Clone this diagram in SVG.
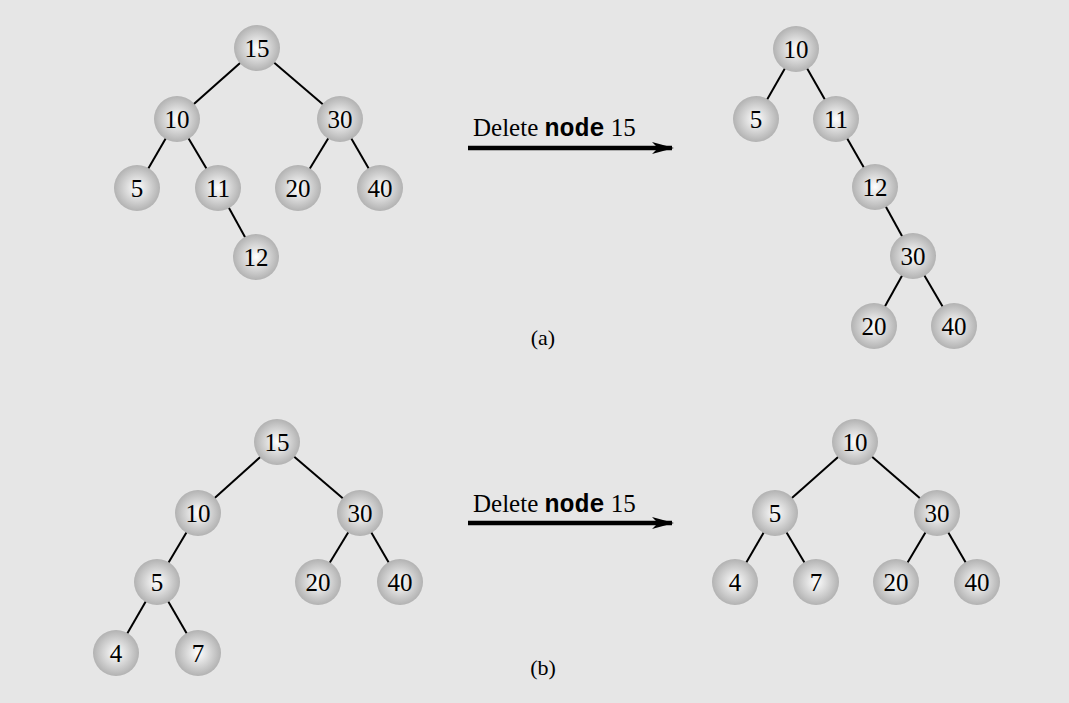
<svg xmlns="http://www.w3.org/2000/svg" width="1069" height="703" viewBox="0 0 1069 703">
<style>
.n{fill:url(#g)}
.t{font-family:"Liberation Serif",serif;font-size:25px;text-anchor:middle;fill:#000}
.e{stroke:#000;stroke-width:2;fill:none}
.lbl{font-family:"Liberation Serif",serif;font-size:25px;fill:#000}
.cap{font-family:"Liberation Serif",serif;font-size:22px;fill:#000;text-anchor:middle}
</style>
<defs>
<radialGradient id="g" cx="0.5" cy="0.5" r="0.5">
<stop offset="0" stop-color="#ffffff"/>
<stop offset="1" stop-color="#b2b2b2"/>
</radialGradient>
<marker id="ah" markerWidth="22" markerHeight="14" refX="20" refY="7" orient="auto" markerUnits="userSpaceOnUse">
<path d="M0,1 L22,7 L0,13 L6,7 Z" fill="#000"/>
</marker>
</defs>
<rect width="1069" height="703" fill="#e6e6e6"/>
<g id="connectors">
<line class="e" x1="257" y1="48" x2="177" y2="119"/>
<line class="e" x1="257" y1="48" x2="340" y2="119"/>
<line class="e" x1="177" y1="119" x2="137" y2="188"/>
<line class="e" x1="177" y1="119" x2="218" y2="188"/>
<line class="e" x1="218" y1="188" x2="256" y2="257"/>
<line class="e" x1="340" y1="119" x2="298" y2="188"/>
<line class="e" x1="340" y1="119" x2="380" y2="188"/>
<line class="e" x1="796" y1="49" x2="756" y2="119"/>
<line class="e" x1="796" y1="49" x2="836" y2="119"/>
<line class="e" x1="836" y1="119" x2="875" y2="187"/>
<line class="e" x1="875" y1="187" x2="913" y2="256"/>
<line class="e" x1="913" y1="256" x2="874" y2="326"/>
<line class="e" x1="913" y1="256" x2="954" y2="326"/>
<line class="e" x1="277" y1="442" x2="198" y2="513"/>
<line class="e" x1="277" y1="442" x2="360" y2="513"/>
<line class="e" x1="198" y1="513" x2="157" y2="582"/>
<line class="e" x1="157" y1="582" x2="116" y2="653"/>
<line class="e" x1="157" y1="582" x2="198" y2="653"/>
<line class="e" x1="360" y1="513" x2="318" y2="582"/>
<line class="e" x1="360" y1="513" x2="400" y2="582"/>
<line class="e" x1="855" y1="442" x2="775" y2="513"/>
<line class="e" x1="855" y1="442" x2="937" y2="513"/>
<line class="e" x1="775" y1="513" x2="735" y2="582"/>
<line class="e" x1="775" y1="513" x2="816" y2="582"/>
<line class="e" x1="937" y1="513" x2="896" y2="582"/>
<line class="e" x1="937" y1="513" x2="977" y2="582"/>
<line x1="468" y1="148" x2="672" y2="148" stroke="#000" stroke-width="4.5" marker-end="url(#ah)"/>
<line x1="468" y1="523" x2="672" y2="523" stroke="#000" stroke-width="4.5" marker-end="url(#ah)"/>
</g>
<g id="a-l15"><circle class="n" cx="257" cy="48" r="23"/><text class="t" x="257" y="57">15</text></g>
<g id="a-l10"><circle class="n" cx="177" cy="119" r="23"/><text class="t" x="177" y="128">10</text></g>
<g id="a-l30"><circle class="n" cx="340" cy="119" r="23"/><text class="t" x="340" y="128">30</text></g>
<g id="a-l5"><circle class="n" cx="137" cy="188" r="23"/><text class="t" x="137" y="197">5</text></g>
<g id="a-l11"><circle class="n" cx="218" cy="188" r="23"/><text class="t" x="218" y="197">11</text></g>
<g id="a-l20"><circle class="n" cx="298" cy="188" r="23"/><text class="t" x="298" y="197">20</text></g>
<g id="a-l40"><circle class="n" cx="380" cy="188" r="23"/><text class="t" x="380" y="197">40</text></g>
<g id="a-l12"><circle class="n" cx="256" cy="257" r="23"/><text class="t" x="256" y="266">12</text></g>
<g id="a-r10"><circle class="n" cx="796" cy="49" r="23"/><text class="t" x="796" y="58">10</text></g>
<g id="a-r5"><circle class="n" cx="756" cy="119" r="23"/><text class="t" x="756" y="128">5</text></g>
<g id="a-r11"><circle class="n" cx="836" cy="119" r="23"/><text class="t" x="836" y="128">11</text></g>
<g id="a-r12"><circle class="n" cx="875" cy="187" r="23"/><text class="t" x="875" y="196">12</text></g>
<g id="a-r30"><circle class="n" cx="913" cy="256" r="23"/><text class="t" x="913" y="265">30</text></g>
<g id="a-r20"><circle class="n" cx="874" cy="326" r="23"/><text class="t" x="874" y="335">20</text></g>
<g id="a-r40"><circle class="n" cx="954" cy="326" r="23"/><text class="t" x="954" y="335">40</text></g>
<g id="b-l15"><circle class="n" cx="277" cy="442" r="23"/><text class="t" x="277" y="451">15</text></g>
<g id="b-l10"><circle class="n" cx="198" cy="513" r="23"/><text class="t" x="198" y="522">10</text></g>
<g id="b-l30"><circle class="n" cx="360" cy="513" r="23"/><text class="t" x="360" y="522">30</text></g>
<g id="b-l5"><circle class="n" cx="157" cy="582" r="23"/><text class="t" x="157" y="591">5</text></g>
<g id="b-l20"><circle class="n" cx="318" cy="582" r="23"/><text class="t" x="318" y="591">20</text></g>
<g id="b-l40"><circle class="n" cx="400" cy="582" r="23"/><text class="t" x="400" y="591">40</text></g>
<g id="b-l4"><circle class="n" cx="116" cy="653" r="23"/><text class="t" x="116" y="662">4</text></g>
<g id="b-l7"><circle class="n" cx="198" cy="653" r="23"/><text class="t" x="198" y="662">7</text></g>
<g id="b-r10"><circle class="n" cx="855" cy="442" r="23"/><text class="t" x="855" y="451">10</text></g>
<g id="b-r5"><circle class="n" cx="775" cy="513" r="23"/><text class="t" x="775" y="522">5</text></g>
<g id="b-r30"><circle class="n" cx="937" cy="513" r="23"/><text class="t" x="937" y="522">30</text></g>
<g id="b-r4"><circle class="n" cx="735" cy="582" r="23"/><text class="t" x="735" y="591">4</text></g>
<g id="b-r7"><circle class="n" cx="816" cy="582" r="23"/><text class="t" x="816" y="591">7</text></g>
<g id="b-r20"><circle class="n" cx="896" cy="582" r="23"/><text class="t" x="896" y="591">20</text></g>
<g id="b-r40"><circle class="n" cx="977" cy="582" r="23"/><text class="t" x="977" y="591">40</text></g>
<g id="labels">
<text class="lbl" x="473" y="136">Delete <tspan font-family="'Liberation Mono', 'DejaVu Sans Mono', monospace" font-weight="bold">node</tspan> 15</text>
<text class="lbl" x="473" y="512">Delete <tspan font-family="'Liberation Mono', 'DejaVu Sans Mono', monospace" font-weight="bold">node</tspan> 15</text>
<text class="cap" x="543" y="345">(a)</text>
<text class="cap" x="543" y="675">(b)</text>
</g>
</svg>
